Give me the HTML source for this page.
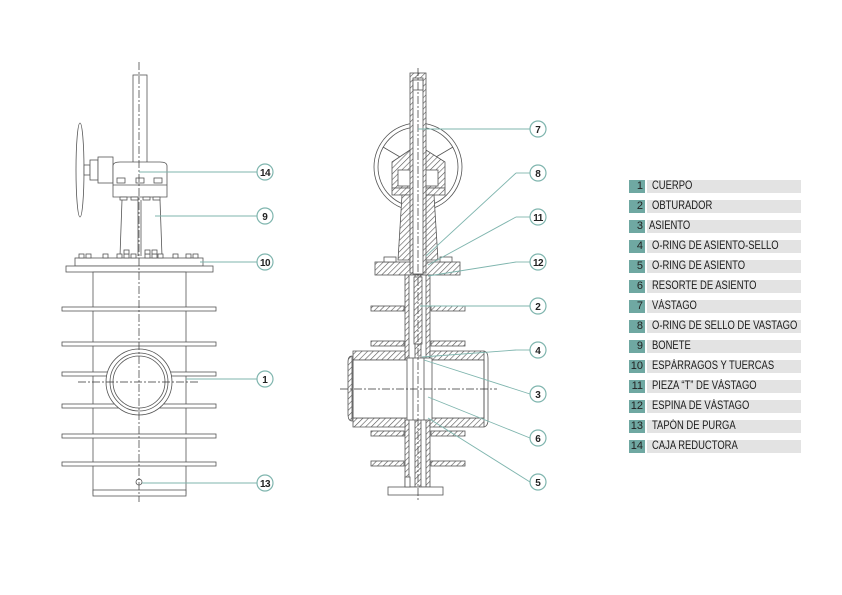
<!DOCTYPE html>
<html><head><meta charset="utf-8"><style>
html,body{margin:0;padding:0;background:#fff;}
body{width:842px;height:595px;overflow:hidden;position:relative;font-family:"Liberation Sans",sans-serif;}
.lg{position:absolute;left:629px;height:13px;}
.lg .n{position:absolute;left:0;top:0;width:16px;height:13px;background:#6fa8a2;color:#222;font-size:11px;line-height:13px;text-align:right;box-sizing:border-box;padding-right:2px;}
.lg .t{position:absolute;left:18px;top:0;width:154px;height:13px;background:#e3e3e3;color:#1a1a1a;font-size:11.5px;line-height:13px;padding-left:5px;box-sizing:border-box;white-space:nowrap;}
.lg .t span{display:inline-block;transform:scaleX(0.82);transform-origin:left;}
</style></head><body>
<svg width="842" height="595" style="position:absolute;left:0;top:0" xmlns="http://www.w3.org/2000/svg">
<defs>
<pattern id="h" width="4" height="4" patternUnits="userSpaceOnUse" patternTransform="rotate(45)">
<rect width="4" height="4" fill="#fff"/><line x1="0" y1="0" x2="0" y2="4" stroke="#555" stroke-width="1.2"/>
</pattern>
</defs>
<g fill="#fff" stroke="#555" stroke-width="0.8">
<rect x="133" y="75" width="14" height="88"/>
<ellipse cx="80" cy="170" rx="4" ry="47"/>
<rect x="84" y="165" width="6" height="10"/>
<rect x="90" y="160" width="8" height="20"/>
<rect x="98" y="157" width="15" height="26"/>
<path d="M113 166 Q113 162 120 162 L160 162 Q167 162 167 166 L167 197 L113 197 Z"/>
<line x1="113" y1="185" x2="167" y2="185"/>
<rect x="117" y="178" width="8" height="5"/><rect x="136" y="178" width="8" height="5"/><rect x="154" y="178" width="8" height="5"/>
<rect x="120" y="197" width="7" height="3"/><rect x="131" y="197" width="7" height="3"/><rect x="143" y="197" width="7" height="3"/><rect x="153" y="197" width="7" height="3"/>
<path d="M122 200 L120 256 M160 200 L162 256" fill="none"/>
<line x1="138" y1="200" x2="138" y2="256"/><line x1="141" y1="200" x2="141" y2="256"/>
<rect x="75" y="258" width="128" height="8"/>
<rect x="66" y="266" width="147" height="6"/>
<g>
<rect x="79" y="254" width="5" height="4"/><rect x="86" y="254" width="5" height="4"/><rect x="103" y="254" width="5" height="4"/><rect x="117" y="254" width="5" height="4"/><rect x="124" y="254" width="5" height="4"/><rect x="131" y="254" width="5" height="4"/><rect x="145" y="254" width="5" height="4"/><rect x="152" y="254" width="5" height="4"/><rect x="158" y="254" width="5" height="4"/><rect x="173" y="254" width="5" height="4"/><rect x="186" y="254" width="5" height="4"/><rect x="193" y="254" width="5" height="4"/>
<rect x="124" y="250" width="5" height="4"/><rect x="145" y="250" width="5" height="4"/><rect x="152" y="250" width="5" height="4"/>
</g>
<rect x="93" y="272" width="93" height="222"/>
<rect x="93" y="490" width="93" height="6"/>
<rect x="62" y="307" width="154" height="4"/><rect x="62" y="342" width="154" height="4"/><rect x="62" y="372" width="154" height="4"/><rect x="62" y="404" width="154" height="4"/><rect x="62" y="434" width="154" height="4"/><rect x="62" y="462" width="154" height="4"/>
<circle cx="139" cy="382" r="33"/><circle cx="139" cy="382" r="29"/><circle cx="139" cy="382" r="26"/>
<circle cx="139" cy="482" r="3"/>
</g>
<g stroke="#333" stroke-width="0.7" stroke-dasharray="8,2,2,2" fill="none">
<line x1="139" y1="62" x2="139" y2="502"/>
<line x1="78" y1="382" x2="200" y2="382"/>
</g>
<g stroke="#555" stroke-width="0.8">
<circle cx="418" cy="167" r="44" fill="none"/><circle cx="418" cy="167" r="40" fill="none"/>
<path d="M383 147 L400 157 M453 147 L436 157 M418 207 L418 197" fill="none"/>
<path d="M410 150 L392 162 L392 188 L445 188 L445 162 L426 150 Z" fill="url(#h)"/>
<rect x="398" y="170" width="40" height="16" fill="#fff"/>
<rect x="392" y="188" width="53" height="7" fill="url(#h)"/>
<path d="M402 195 L398 260 L438 260 L434 195 Z" fill="url(#h)"/>
<rect x="375" y="262" width="85" height="13" fill="url(#h)"/>
<rect x="384" y="257" width="12" height="5" fill="#fff"/><rect x="440" y="257" width="12" height="5" fill="#fff"/>
<rect x="410" y="73" width="16" height="200" fill="url(#h)"/>
<rect x="413" y="78" width="10" height="196" fill="#fff"/>
<rect x="413" y="80" width="10" height="10" fill="#fff"/>
<rect x="405" y="275" width="25" height="212" fill="url(#h)"/>
<rect x="409" y="275" width="6" height="212" fill="#fff"/>
<rect x="421" y="275" width="5" height="212" fill="#fff"/>
<rect x="414" y="277" width="8" height="67" fill="url(#h)"/>
<rect x="371" y="306" width="33" height="5" fill="url(#h)"/><rect x="431" y="306" width="34" height="5" fill="url(#h)"/>
<rect x="371" y="341" width="33" height="5" fill="url(#h)"/><rect x="431" y="341" width="34" height="5" fill="url(#h)"/>
<rect x="371" y="431" width="33" height="5" fill="url(#h)"/><rect x="431" y="431" width="34" height="5" fill="url(#h)"/>
<rect x="371" y="461" width="33" height="5" fill="url(#h)"/><rect x="431" y="461" width="34" height="5" fill="url(#h)"/>
<path d="M352 356 L352 421 Q348 421 348 414 L348 362 Q348 356 352 356 Z M353 351 L405 351 L405 360 L353 360 Z M430 351 L484 351 L484 360 L430 360 Z M353 418 L405 418 L405 427 L353 427 Z M430 418 L484 418 L484 427 L430 427 Z" fill="url(#h)"/>
<rect x="353" y="360" width="131" height="58" fill="#fff"/>
<line x1="353" y1="360" x2="353" y2="418"/><line x1="484" y1="360" x2="484" y2="418"/>
<path d="M484 351 Q488 352 488 358 L488 420 Q488 426 484 427" fill="none"/>
<rect x="407" y="358" width="25" height="62" fill="#fff"/>
<line x1="413" y1="358" x2="413" y2="420"/><line x1="424" y1="358" x2="424" y2="420"/>
<rect x="388" y="487" width="55" height="8" fill="#fff"/>
<rect x="405" y="477" width="5" height="10" fill="#fff"/>
</g>
<g stroke="#333" stroke-width="0.7" stroke-dasharray="8,2,2,2" fill="none">
<line x1="418" y1="68" x2="418" y2="502"/>
<line x1="340" y1="389" x2="497" y2="389"/>
</g>
<g stroke="#7fb5ae" stroke-width="0.9" fill="none">
<line x1="139" y1="172" x2="257" y2="172"/>
<line x1="155" y1="216" x2="257" y2="216"/>
<line x1="200" y1="262" x2="257" y2="262"/>
<line x1="186" y1="379" x2="257" y2="379"/>
<line x1="142" y1="483" x2="257" y2="483"/>
<line x1="418" y1="129" x2="530" y2="129"/>
<line x1="426" y1="256" x2="516" y2="173"/><line x1="516" y1="173" x2="530" y2="173"/>
<line x1="428" y1="265" x2="516" y2="217"/><line x1="516" y1="217" x2="530" y2="217"/>
<line x1="428" y1="276" x2="516" y2="262"/><line x1="516" y1="262" x2="530" y2="262"/>
<line x1="420" y1="306" x2="530" y2="306"/>
<line x1="422" y1="357" x2="516" y2="350"/><line x1="516" y1="350" x2="530" y2="350"/>
<line x1="424" y1="360" x2="530" y2="394"/>
<line x1="428" y1="397" x2="530" y2="438"/>
<line x1="428" y1="418" x2="530" y2="482"/>
</g>
<g stroke="#7fb5ae" stroke-width="1.2" fill="#fff">
<circle cx="265" cy="172" r="8"/><circle cx="265" cy="216" r="8"/><circle cx="265" cy="262" r="8"/><circle cx="265" cy="379" r="8"/><circle cx="265" cy="483" r="8"/>
<circle cx="538" cy="129" r="8"/><circle cx="538" cy="173" r="8"/><circle cx="538" cy="217" r="8"/><circle cx="538" cy="262" r="8"/><circle cx="538" cy="306" r="8"/><circle cx="538" cy="350" r="8"/><circle cx="538" cy="394" r="8"/><circle cx="538" cy="438" r="8"/><circle cx="538" cy="482" r="8"/>
</g>
<g fill="#222" font-family="Liberation Sans, sans-serif" font-size="10" font-weight="bold" text-anchor="middle">
<text x="265" y="176" letter-spacing="-0.5">14</text><text x="265" y="220">9</text><text x="265" y="266" letter-spacing="-0.5">10</text><text x="265" y="383">1</text><text x="265" y="487" letter-spacing="-0.5">13</text>
<text x="538" y="133">7</text><text x="538" y="177">8</text><text x="538" y="221" letter-spacing="-0.5">11</text><text x="538" y="266" letter-spacing="-0.5">12</text><text x="538" y="310">2</text><text x="538" y="354">4</text><text x="538" y="398">3</text><text x="538" y="442">6</text><text x="538" y="486">5</text>
</g>
</svg>
<div class="lg" style="top:180px"><div class="n">1</div><div class="t"><span>CUERPO</span></div></div>
<div class="lg" style="top:200px"><div class="n">2</div><div class="t"><span>OBTURADOR</span></div></div>
<div class="lg" style="top:220px"><div class="n">3</div><div class="t" style="padding-left:2px"><span>ASIENTO</span></div></div>
<div class="lg" style="top:240px"><div class="n">4</div><div class="t"><span>O-RING DE ASIENTO-SELLO</span></div></div>
<div class="lg" style="top:260px"><div class="n">5</div><div class="t"><span>O-RING DE ASIENTO</span></div></div>
<div class="lg" style="top:280px"><div class="n">6</div><div class="t"><span>RESORTE DE ASIENTO</span></div></div>
<div class="lg" style="top:300px"><div class="n">7</div><div class="t"><span>VÁSTAGO</span></div></div>
<div class="lg" style="top:320px"><div class="n">8</div><div class="t"><span>O-RING DE SELLO DE VASTAGO</span></div></div>
<div class="lg" style="top:340px"><div class="n">9</div><div class="t"><span>BONETE</span></div></div>
<div class="lg" style="top:360px"><div class="n">10</div><div class="t"><span>ESPÁRRAGOS Y TUERCAS</span></div></div>
<div class="lg" style="top:380px"><div class="n">11</div><div class="t"><span>PIEZA “T” DE VÁSTAGO</span></div></div>
<div class="lg" style="top:400px"><div class="n">12</div><div class="t"><span>ESPINA DE VÁSTAGO</span></div></div>
<div class="lg" style="top:420px"><div class="n">13</div><div class="t"><span>TAPÓN DE PURGA</span></div></div>
<div class="lg" style="top:440px"><div class="n">14</div><div class="t"><span>CAJA REDUCTORA</span></div></div>
</body></html>
